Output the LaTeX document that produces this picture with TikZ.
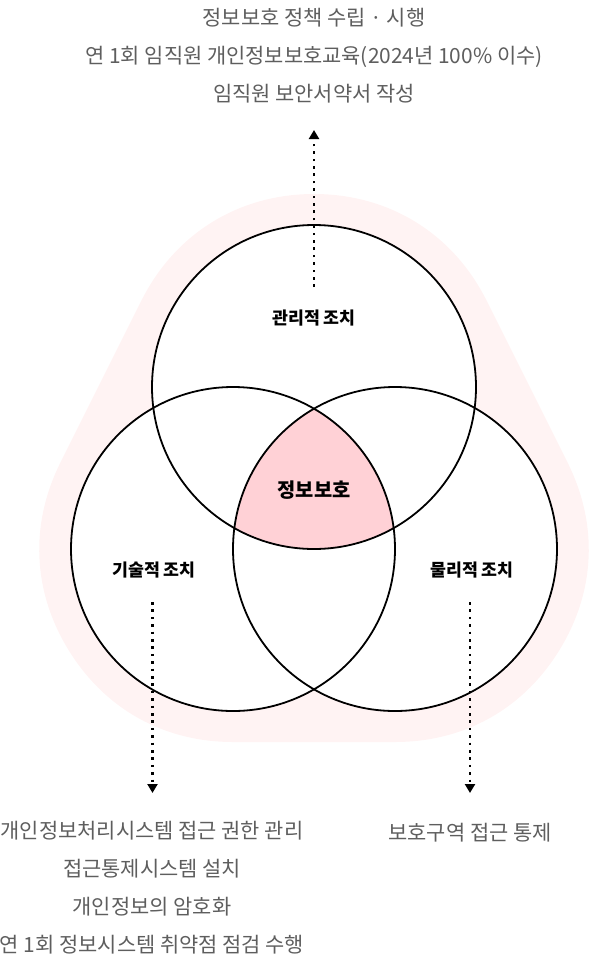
\documentclass[tikz,border=0pt]{standalone}
\usepackage{fontspec}
\setmainfont{Noto Sans CJK KR}
\usepackage{tikz}
\usetikzlibrary{arrows.meta}
\definecolor{bandPink}{HTML}{FFF3F3}
\definecolor{corePink}{HTML}{FFD1D6}
\definecolor{noteGray}{HTML}{5E5E5E}

\begin{document}
\begin{tikzpicture}[x=1pt, y=-1pt, >={Triangle[width=10pt,length=9pt]}, semithick]
        \tikzset{
           band/.style={
                        draw=bandPink,
                        fill=bandPink,
                        line width=386pt,
                        line join=round
                       },
           vennLine/.style={
                        draw=black,
                        line width=1.8pt,
                        fill=none
                       },
           measure/.style={
                        text=black,
                        font=\fontsize{17.3}{20}\selectfont\bfseries
                       },
           coreLabel/.style={
                        text=black,
                        font=\fontsize{19.8}{22}\selectfont\bfseries
                       },
           note/.style={
                        text=noteGray,
                        align=center,
                        inner sep=0pt,
                        font=\fontsize{20.9}{38}\selectfont
                       },
           hint/.style={
                        ->,
                        draw=black,
                        line width=2.3pt,
                        dash pattern=on 2.6pt off 4.8pt
                       },
                 }
        \useasboundingbox (0,0) rectangle (594,962);
    %--------------------
        \coordinate (mgmtC) at (314,387);
        \coordinate (techC) at (233,549);
        \coordinate (physC) at (395,549);

        \path[band] (mgmtC) -- (techC) -- (physC) -- cycle;
        \fill[white] (mgmtC) circle[radius=162] (techC) circle[radius=162] (physC) circle[radius=162];

        \begin{scope}
          \clip (mgmtC) circle[radius=162];
          \clip (techC) circle[radius=162];
          \fill[corePink] (physC) circle[radius=162];
        \end{scope}

        \draw[vennLine] (mgmtC) circle[radius=162];
        \draw[vennLine] (techC) circle[radius=162];
        \draw[vennLine] (physC) circle[radius=162];
    %--------------------
        \node[measure]   (mgmt)     at (314,318)   {관리적 조치};
        \node[measure]   (tech)     at (154,570)   {기술적 조치};
        \node[measure]   (phys)     at (472,570)   {물리적 조치};
        \node[coreLabel] (core)     at (314,490)   {정보보호};

        \node[note]      (mgmtNote) at (314,56)    {정보보호 정책 수립 · 시행\\
                                                    연 1회 임직원 개인정보보호교육(2024년 100\% 이수)\\
                                                    임직원 보안서약서 작성};
        \node[note]      (techNote) at (152,888)   {개인정보처리시스템 접근 권한 관리\\
                                                    접근통제시스템 설치\\
                                                    개인정보의 암호화\\
                                                    연 1회 정보시스템 취약점 점검 수행};
        \node[note]      (physNote) at (470,833)   {보호구역 접근 통제};

        \coordinate (mgmtFoot) at (314,287);
        \coordinate (mgmtHead) at (314,130);
        \coordinate (techFoot) at (152.5,602);
        \coordinate (techHead) at (152.5,793);
        \coordinate (physFoot) at (470,602);
        \coordinate (physHead) at (470,793);
    %--------------------
        \path (mgmtFoot) edge[hint] (mgmtHead)
              (techFoot) edge[hint] (techHead)
              (physFoot) edge[hint] (physHead);
\end{tikzpicture}
\end{document}
